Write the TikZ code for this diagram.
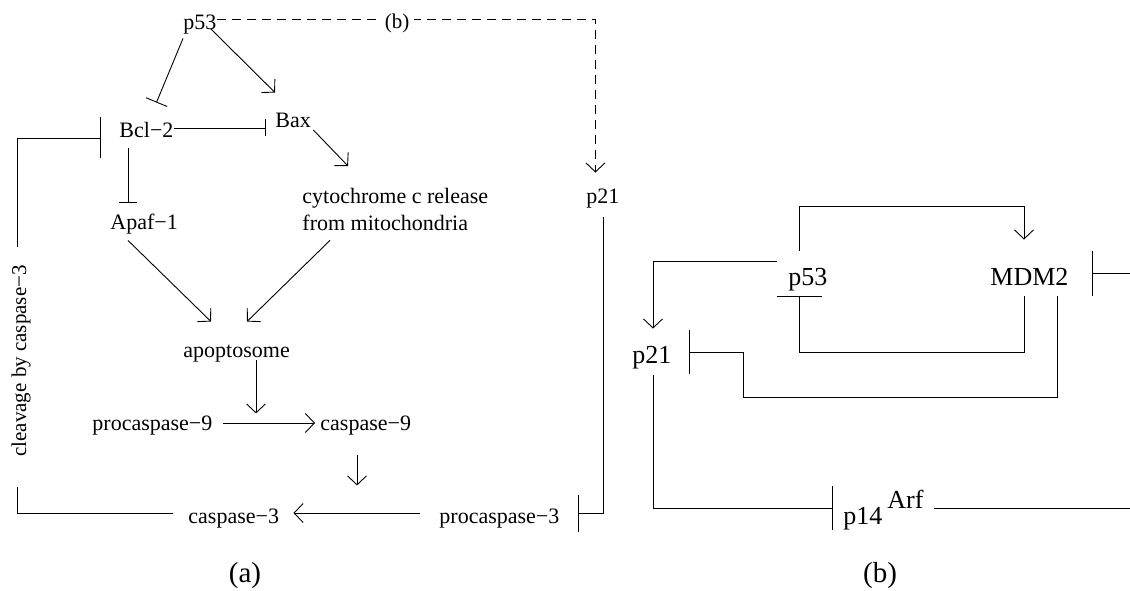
\documentclass[tikz,border=0pt]{standalone}
\usepackage{fontspec}
\setmainfont{Liberation Serif}
\usetikzlibrary{arrows.meta,calc}
\begin{document}
\begin{tikzpicture}[x=1pt,y=-1pt, line width=0.9pt,
  lt/.style={font=\fontsize{22}{27}\selectfont, inner sep=0pt, text height=15pt, text depth=5pt, anchor=base west},
  rt/.style={font=\fontsize{26}{31}\selectfont, inner sep=0pt, text height=18pt, text depth=6pt, anchor=base west},
  act/.style={-{Straight Barb[length=9pt,width=19pt]}},
  inh/.style={-{Bar[width=#1]}},
  dsh/.style={dash pattern=on 9pt off 6pt}]
\useasboundingbox (0,0) rectangle (1130,591);

% ---------- panel (a) ----------
\node[lt] (p53a) at (183,30) {p53};
\node[lt] (bcl) at (119,138) {Bcl−2};
\node[lt] (bax) at (275,128) {Bax};
\node[lt] (apaf) at (110,229) {Apaf−1};
\node[font=\fontsize{22}{27}\selectfont, inner sep=0pt, align=left, anchor=north west] (cyt) at (302,188) {cytochrome c release\\from mitochondria};
\node[lt] (apo) at (183,357) {apoptosome};
\node[lt] (pc9) at (92,430) {procaspase−9};
\node[lt] (c9) at (320,430) {caspase−9};
\node[lt] (c3) at (188,523) {caspase−3};
\node[lt] (pc3) at (439,523) {procaspase−3};
\node[lt] (p21a) at (586,203) {p21};
\node[font=\fontsize{21}{25}\selectfont, rotate=90, inner sep=0pt] (clv) at (21,361) {cleavage by caspase−3};

\draw[inh=23pt] ($(p53a.south west)+(0,3)$) -- ($(bcl.north)+(10,-20)$);
\draw[act] ($(p53a.east)+(-6,4)$) -- ($(bax.north west)+(0,-20)$);
\draw[inh=17pt] ($(bcl.east)+(0,-5)$) -- ($(bax.west)+(-9,5)$);
\draw[act] ($(bax.east)+(2,7)$) -- ($(cyt.north west)+(46,-22)$);
\draw[inh=18pt] ($(bcl.south west)+(9,5)$) -- ($(apaf.north west)+(18,-11)$);
\draw[act] ($(apaf.south west)+(18,6)$) -- ($(apo.north west)+(28,-20)$);
\draw[act] ($(cyt.south west)+(28,9)$) -- ($(apo.north west)+(64,-20)$);
\draw[act] ($(apo.south west)+(73,-2)$) -- ($(apo.south west)+(73,51)$);
\draw[act] ($(pc9.east)+(10,-2)$) -- ($(c9.west)+(-5,-2)$);
\draw[act] ($(c9.south west)+(37,20)$) -- ($(c9.south west)+(37,50)$);
\draw[act] ($(pc3.west)+(-19,-5)$) -- ($(c3.east)+(14,-5)$);
\draw[inh=37pt] ($(p21a.south)+(0.5,9)$) |- ($(pc3.east)+(18,-5)$);
\coordinate (fbA) at (17,487);
\coordinate (fbB) at (17,247);
\draw ($(c3.west)+(-15,-5)$) -| (fbA);
\draw[inh=41pt] (fbB) |- ($(bcl.west)+(-18,5)$);
\draw[dsh, act] ($(p53a.east)+(0,-6)$) -| ($(p21a.north)+(-7.5,-15)$);
\node[font=\fontsize{21}{25}\selectfont, fill=white, inner xsep=5pt, inner ysep=0pt] (blab) at (397,23) {(b)};

% ---------- panel (b) ----------
\node[rt] (p53b) at (788,285) {p53};
\node[rt] (mdm2) at (990,285) {MDM2};
\node[rt] (p21b) at (632,363) {p21};
\node[rt] (p14) at (843,524) {p14\hspace{5pt}\raisebox{16pt}{Arf}};

\draw[act] ($(p53b.north west)+(11,-16)$) -- ++(0,-44) -| ($(mdm2.north west)+(34,-27)$);
\draw[act] ($(p53b.north west)+(-11,-5)$) -| ($(p21b.north west)+(21,-16)$);
\draw[inh=45pt] ($(mdm2.south west)+(34,5)$) -- ++(0,56) -| ($(p53b.south west)+(11,5)$);
\draw[inh=44pt] ($(mdm2.south east)+(-11,5)$) -- ++(0,101) -- ++(-314,0) |- ($(p21b.east)+(17,-5)$);
\draw[inh=44pt] ($(p21b.south)+(1.5,6)$) |- ($(p14.west)+(-10,-10)$);
\coordinate (edgeA) at (1130,508);
\draw ($(p14.west)+(91,-10)$) -- (edgeA);
\coordinate (edgeB) at (1130,273);
\draw[inh=45pt] (edgeB) -- ($(mdm2.east)+(23,-6)$);

% ---------- captions ----------
\node[font=\fontsize{29}{34}\selectfont] (la) at (245,576) {(a)};
\node[font=\fontsize{29}{34}\selectfont] (lb) at (880,576) {(b)};
\end{tikzpicture}
\end{document}
